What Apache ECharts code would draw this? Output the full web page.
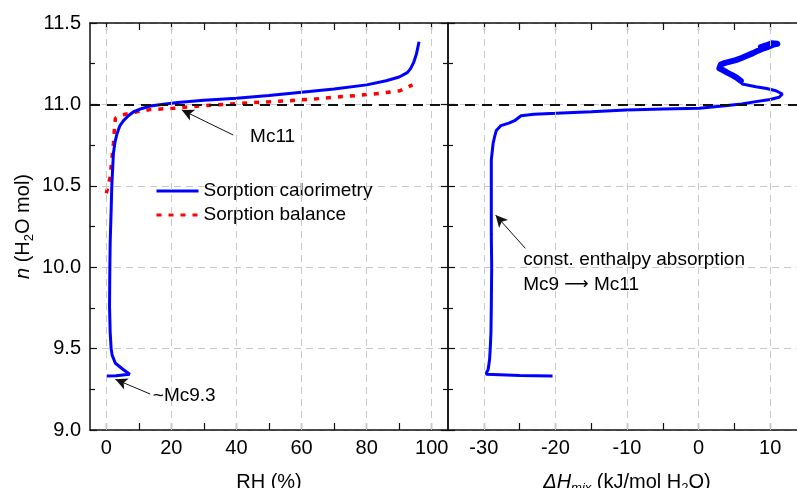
<!DOCTYPE html>
<html><head><meta charset="utf-8">
<script src="https://cdn.jsdelivr.net/npm/echarts@6/dist/echarts.min.js"></script>
<style>html,body{margin:0;padding:0;background:#fff}#c{width:797px;height:488px}</style>
</head><body><div id="c"></div>
<script>
// ---- data ----
const calorimetryRH = [0.2, 3, 7.2, 5.3, 2.8, 1.8, 1.5, 1.2, 1.0, 1.1, 1.2, 1.5, 1.7, 2.0, 2.2, 2.7, 3.3, 4.2, 5.3, 6.8, 8.4, 11, 13.5, 17, 22, 30, 40, 50, 60, 70, 80, 86, 90, 92.5, 93.5, 94.5, 95.3, 96.1];
const calorimetryN  = [9.332, 9.333, 9.342, 9.37, 9.41, 9.46, 9.5, 9.6, 9.76, 10.0, 10.15, 10.35, 10.5, 10.62, 10.7, 10.77, 10.82, 10.87, 10.9, 10.93, 10.955, 10.975, 10.99, 11.0, 11.012, 11.025, 11.038, 11.055, 11.075, 11.095, 11.12, 11.145, 11.168, 11.195, 11.22, 11.26, 11.31, 11.385];
const balanceRH = [0, 0.6, 1.2, 1.7, 2.2, 2.5, 2.8, 4.8, 9.4, 13.5, 20.6, 28.8, 36, 44.2, 56.4, 64, 71.8, 78, 84, 90.2, 94.1];
const balanceN  = [10.454, 10.5, 10.556, 10.66, 10.76, 10.85, 10.915, 10.935, 10.955, 10.968, 10.976, 10.99, 11.0, 11.01, 11.023, 11.033, 11.047, 11.056, 11.068, 11.084, 11.12];
// enthalpy curve: smooth part and the noisy upper part
const enthalpyH = [-20.4, -25, -29.65, -29.6, -29.4, -29.2, -29.1, -29.0, -28.95, -28.9, -28.95, -28.95, -28.95, -28.7, -28.5, -28.25, -27.6, -26.5, -25.7, -24.8, -23, -19.9, -15, -10.1, -5, 0.1, 3.35, 6, 8.0, 10, 11.25, 11.7, 10.8, 9.5, 8.0, 6.1, 5.9];
const enthalpyN = [9.332, 9.335, 9.342, 9.355, 9.37, 9.43, 9.5, 9.6, 9.757, 10.0, 10.2, 10.4, 10.66, 10.76, 10.8, 10.84, 10.87, 10.885, 10.9, 10.93, 10.94, 10.945, 10.955, 10.966, 10.972, 10.976, 10.99, 11.002, 11.017, 11.03, 11.044, 11.064, 11.084, 11.098, 11.109, 11.125, 11.145];
const enthalpyNoisyH = [5.9, 5.3, 4.7, 4.0, 3.4, 2.9, 2.8, 3.1, 3.7, 4.4, 5.2, 6.0, 6.8, 7.6, 8.3, 9.0, 9.8, 10.4, 11.0, 11.2, 10.2, 9.4, 8.7];
const enthalpyNoisyN = [11.145, 11.165, 11.18, 11.195, 11.21, 11.222, 11.232, 11.245, 11.255, 11.263, 11.272, 11.285, 11.3, 11.315, 11.33, 11.343, 11.355, 11.367, 11.372, 11.378, 11.375, 11.362, 11.352];
const rhTicks = [0, 10, 20, 30, 40, 50, 60, 70, 80, 90, 100];
const rhLabels = [0, 20, 40, 60, 80, 100];
const hTicks = [-30, -25, -20, -15, -10, -5, 0, 5, 10, 15];
const hLabels = [-30, -20, -10, 0, 10];
const referenceN = 11.0;
const legendNames = ['Sorption calorimetry', 'Sorption balance'];

// ---- annotations (data space) ----
const arrowMc11 = [[39, 10.812], [23.2, 10.966]];
const textMc11 = [44.2, 10.80];
const arrowMc93 = [[13.5, 9.221], [2.8, 9.311]];
const textMc93 = [14.3, 9.21];
const arrowEnth = [[-24.2, 10.116], [-28.35, 10.32]];
const textEnth = [-24.5, 9.967];

const FONT = '"Liberation Sans", Arial, sans-serif';
const zip = (xs, ys) => xs.map((x, i) => [x, ys[i]]);
const gridLineStyle = {color: '#c8c8c8', type: [7, 5], width: 1};
const axisLineStyle = {color: '#111', width: 1.5};

const rich = {
  t: {fontSize: 20, fontFamily: FONT, color: '#000', lineHeight: 26},
  i: {fontSize: 20, fontFamily: FONT, fontStyle: 'italic', color: '#000', lineHeight: 26},
  s: {fontSize: 13, fontFamily: FONT, color: '#000', lineHeight: 13, verticalAlign: 'bottom'},
  si: {fontSize: 13, fontFamily: FONT, fontStyle: 'italic', color: '#000', lineHeight: 13, verticalAlign: 'bottom'}
};
const annRich = {
  a: {fontSize: 19, fontFamily: FONT, color: '#000', lineHeight: 25},
  r: {fontSize: 17, fontFamily: '"DejaVu Sans", sans-serif', color: '#000', lineHeight: 25}
};

function xAxisDef(grid, min, max, ticks, labels, pos, name) {
  return {
    type: 'value', gridIndex: grid, min: min, max: max, position: pos,
    axisLine: {show: true, onZero: false, lineStyle: axisLineStyle},
    axisTick: {show: true, inside: true, length: 7, customValues: ticks, lineStyle: {color: '#111', width: 1.2}},
    axisLabel: {show: pos === 'bottom', customValues: labels, fontSize: 20, fontFamily: FONT, color: '#000', margin: 8},
    splitLine: {show: false},
    name: pos === 'bottom' ? name : '', nameLocation: 'middle', nameGap: 39,
    nameTextStyle: {rich: rich}
  };
}
function yAxisDef(grid, pos, labels, split, name) {
  return {
    type: 'value', gridIndex: grid, min: 9, max: 11.5, interval: 0.5, position: pos,
    axisLine: {show: true, onZero: false, lineStyle: axisLineStyle},
    axisTick: {show: true, inside: true, length: 7, lineStyle: {color: '#111', width: 1.2}},
    minorTick: {show: true, splitNumber: 2, length: 5, lineStyle: {color: '#111', width: 1.2}},
    axisLabel: {show: labels, fontSize: 20, fontFamily: FONT, color: '#000', margin: 9, formatter: v => v.toFixed(1)},
    splitLine: {show: split, lineStyle: gridLineStyle},
    name: name || '', nameLocation: 'middle', nameGap: 54,
    nameTextStyle: {rich: rich}
  };
}
function gridSeries(xi, yi, vals) {
  return {
    type: 'line', xAxisIndex: xi, yAxisIndex: yi, data: [], z: 1, silent: true,
    markLine: {silent: true, symbol: ['none', 'none'], label: {show: false}, animation: false,
      lineStyle: gridLineStyle, data: vals.map(v => ({xAxis: v}))}
  };
}
const arrowLine = {type: 'solid', width: 1, color: '#111'};
function arrow(a) {
  return [{coord: a[0], symbol: 'none', lineStyle: arrowLine}, {coord: a[1], symbol: 'arrow', symbolSize: [9, 12]}];
}
function textPoint(coord, text) {
  return {coord: coord, symbol: 'circle', symbolSize: 0, itemStyle: {color: 'rgba(0,0,0,0)'},
    label: {show: true, position: 'right', distance: 0, formatter: text, fontSize: 19, fontFamily: FONT, color: '#000', lineHeight: 25, rich: annRich}};
}
const refLine = {silent: true, symbol: ['none', 'none'], label: {show: false}, animation: false,
  lineStyle: {color: '#111', type: [10, 7], width: 2}};

const chart = echarts.init(document.getElementById('c'), null, {renderer: 'canvas'});
chart.setOption({
  animation: false,
  backgroundColor: '#fff',
  textStyle: {fontFamily: FONT},
  grid: [
    {left: 90, top: 23, width: 358, height: 407, containLabel: false, outerBoundsMode: 'none'},
    {left: 448, top: 23, width: 358, height: 407, containLabel: false, outerBoundsMode: 'none'}
  ],
  legend: {
    data: legendNames, orient: 'vertical', left: 150, top: 176,
    itemWidth: 42, itemHeight: 14, itemGap: 4,
    itemStyle: {opacity: 0},
    lineStyle: {width: 3},
    textStyle: {fontSize: 19, fontFamily: FONT, color: '#000', lineHeight: 20}
  },
  xAxis: [
    xAxisDef(0, -5, 105, rhTicks, rhLabels, 'bottom', '{t|RH (%)}'),
    xAxisDef(0, -5, 105, rhTicks, rhLabels, 'top'),
    xAxisDef(1, -35, 15, hTicks, hLabels, 'bottom', '{i|ΔH}{si|mix}{t| (kJ/mol H}{s|2}{t|O)}'),
    xAxisDef(1, -35, 15, hTicks, hLabels, 'top')
  ],
  yAxis: [
    yAxisDef(0, 'left', true, true, '{i|n}{t| (H}{s|2}{t|O mol)}'),
    yAxisDef(0, 'right', false, false),
    yAxisDef(1, 'left', false, true)
  ],
  series: [
    gridSeries(0, 0, rhLabels),
    gridSeries(2, 2, hLabels),
    {
      name: legendNames[0], type: 'line', xAxisIndex: 0, yAxisIndex: 0, z: 3,
      data: zip(calorimetryRH, calorimetryN), symbol: 'none',
      lineStyle: {color: '#0000ff', width: 3}, itemStyle: {color: '#0000ff'},
      markLine: Object.assign({}, refLine, {data: [{yAxis: referenceN}, arrow(arrowMc11), arrow(arrowMc93)]}),
      markPoint: {silent: true, animation: false, data: [textPoint(textMc11, '{a|Mc11}'), textPoint(textMc93, '{a|~Mc9.3}')]}
    },
    {
      name: legendNames[1], type: 'line', xAxisIndex: 0, yAxisIndex: 0, z: 2,
      data: zip(balanceRH, balanceN), symbol: 'none',
      lineStyle: {color: '#ff0000', width: 3.5, type: [5, 7]}, itemStyle: {color: '#ff0000'}
    },
    {
      name: 'enthalpy', type: 'line', xAxisIndex: 2, yAxisIndex: 2, z: 3,
      data: zip(enthalpyH, enthalpyN), symbol: 'none',
      lineStyle: {color: '#0000ff', width: 3}, itemStyle: {color: '#0000ff'},
      markLine: Object.assign({}, refLine, {data: [{yAxis: referenceN}, arrow(arrowEnth)]}),
      markPoint: {silent: true, animation: false, data: [textPoint(textEnth, '{a|const. enthalpy absorption}\n{a|Mc9 }{r|⟶}{a| Mc11}')]}
    },
    {
      name: 'enthalpy noisy', type: 'line', xAxisIndex: 2, yAxisIndex: 2, z: 3,
      data: zip(enthalpyNoisyH, enthalpyNoisyN), symbol: 'none',
      lineStyle: {color: '#0000ff', width: 6, join: 'round', cap: 'round'}, itemStyle: {color: '#0000ff'}
    }
  ]
});
</script></body></html>
